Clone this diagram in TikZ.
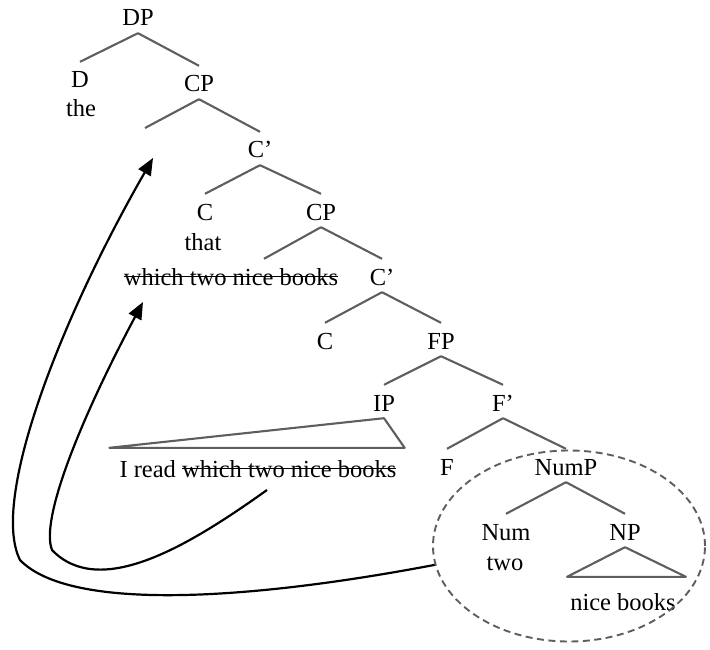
\documentclass[tikz,border=0pt]{standalone}
\usepackage{fontspec}
\setmainfont{Liberation Serif}
\usetikzlibrary{arrows.meta,shapes.geometric,calc}
\definecolor{treegray}{HTML}{5E5E5E}
\newsavebox{\strkbox}
\newcommand{\strk}[1]{\sbox{\strkbox}{#1}\rlap{\rule[0.32em]{\wd\strkbox}{1.2pt}}\usebox{\strkbox}}

\begin{document}
\begin{tikzpicture}[
    x=1pt, y=-1pt,
    word/.style={inner sep=0pt, text height=26pt, text depth=7pt, anchor=base,
        font=\fontsize{24.5}{28}\selectfont},
    branch/.style={line width=2.1pt, treegray},
    move/.style={-{Triangle[length=17pt, width=14pt]}, line width=2.2pt, black},
    moved/.style={draw=treegray, dashed, dash pattern=on 7pt off 4.5pt, line width=1.9pt,
        ellipse, minimum width=272pt, minimum height=191pt}
]
\useasboundingbox (0,0) rectangle (710,650);

% tree labels
\node[word] (dp)   at (138,26)  {DP};
\node[word] (d)    at (80,88)   {D};
\node[word] (the)  at (81,117)  {the};
\node[word] (cpa)  at (199,92)  {CP};
\coordinate (spec) at (145,128);
\node[word] (cba)  at (260,158) {C’};
\node[word] (ca)   at (205,220) {C};
\node[word] (that) at (203,250) {that};
\node[word] (cpb)  at (321,220) {CP};
\node[word] (wh)   at (231,285) {\strk{which two nice books}};
\node[word] (cbb)  at (382,285) {C’};
\node[word] (cb)   at (325,349) {C};
\node[word] (fp)   at (441,349) {FP};
\node[word] (ip)   at (384,411) {IP};
\node[word] (fba)  at (503,411) {F’};
\node[word] (iread) at (258,477) {I read \strk{which two nice books}};
\node[word] (f)    at (447,475) {F};
\node[word] (nump) at (566,475) {NumP};
\node[word] (num)  at (506,540) {Num};
\node[word] (two)  at (505,570) {two};
\node[word] (np)   at (625,540) {NP};
\node[word] (nb)   at (623,610) {nice books};
\node[moved] (circ) at (569,546) {};

\foreach \i/\j in {dp/d, dp/cpa, cpa/cba, cba/ca, cba/cpb, cpb/cbb, cbb/cb, cbb/fp,
    fp/ip, fp/fba, fba/f, fba/nump, nump/num, nump/np}
    \draw[branch] (\i.south) -- (\j.north);
\draw[branch] (cpa.south) -- (spec);
\draw[branch] (cpb.south) -- ([xshift=33pt]wh.north);

% triangles
\draw[branch, line join=round] (ip.south) -- ([shift={(8pt,3pt)}]iread.north east)
    -- ([shift={(-10pt,3pt)}]iread.north west) -- cycle;
\draw[branch, line join=round] (np.south) -- ([shift={(10pt,7pt)}]nb.north east)
    -- ([shift={(-3pt,7pt)}]nb.north west) -- cycle;

% movement
\coordinate (land1) at (153,158);
\coordinate (land2) at (143,302);
\coordinate (src2)  at (267,490);
\draw[move] (circ.188) .. controls (250,600) and (70,612) .. (20,560)
    .. controls (-10,500) and (60,320) .. (land1);
\draw[move] (src2) .. controls (190,545) and (100,600) .. (52,550)
    .. controls (40,520) and (80,420) .. (land2);
\end{tikzpicture}
\end{document}
